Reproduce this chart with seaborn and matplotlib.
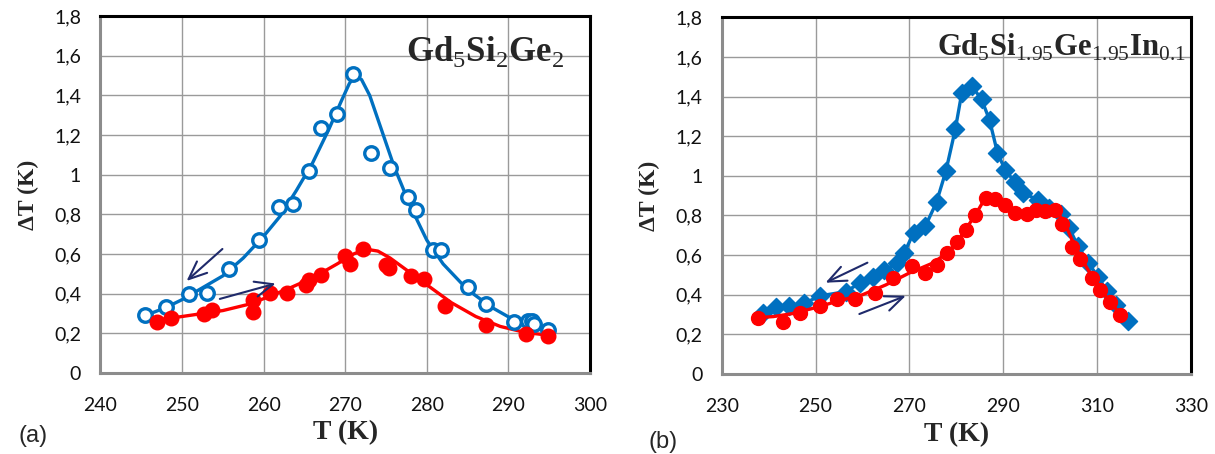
import matplotlib
matplotlib.use("Agg")
import matplotlib.pyplot as plt
import seaborn as sns
import pandas as pd

# ---------------- data: panel (a) Gd5Si2Ge2 ----------------
a_cool_T = [245.5, 248.0, 250.9, 253.1, 255.8, 259.4, 261.9, 263.6, 265.5, 267.0, 269.0, 271.0,
            273.1, 275.5, 277.7, 278.7, 280.8, 281.7, 285.1, 287.3, 290.7, 292.4, 292.9, 293.1, 294.9]
a_cool_dT = [0.294, 0.333, 0.40, 0.403, 0.524, 0.672, 0.835, 0.853, 1.021, 1.234, 1.305, 1.508,
             1.112, 1.033, 0.887, 0.82, 0.621, 0.621, 0.433, 0.349, 0.255, 0.26, 0.26, 0.245, 0.218]
a_heat_T = [246.9, 248.7, 252.7, 253.7, 258.7, 258.7, 260.8, 262.9, 265.2, 265.5, 267.0, 270.0,
            270.6, 272.2, 275.0, 275.4, 278.1, 279.7, 282.2, 287.2, 292.2, 294.9]
a_heat_dT = [0.255, 0.277, 0.297, 0.316, 0.37, 0.307, 0.403, 0.403, 0.445, 0.47, 0.495, 0.588,
             0.551, 0.626, 0.546, 0.529, 0.49, 0.475, 0.336, 0.243, 0.196, 0.185]
a_cool_fit_T = [245.5, 248, 250, 252.5, 255, 257.5, 260, 262, 264, 266, 268, 269.5, 270.5, 271.2,
                272, 273, 274, 276, 278, 280, 282, 285, 288, 291, 293, 295]
a_cool_fit_dT = [0.29, 0.33, 0.37, 0.43, 0.49, 0.58, 0.69, 0.79, 0.92, 1.06, 1.23, 1.37, 1.46, 1.50,
                 1.48, 1.40, 1.28, 1.04, 0.84, 0.67, 0.55, 0.42, 0.33, 0.26, 0.23, 0.215]
a_heat_fit_T = [246.5, 250, 255, 258, 260, 263, 266, 269, 271, 272.5, 274, 275.5, 277, 280, 283,
                286, 289, 292, 295]
a_heat_fit_dT = [0.265, 0.285, 0.315, 0.345, 0.375, 0.425, 0.48, 0.55, 0.60, 0.625, 0.615, 0.58,
                 0.535, 0.445, 0.355, 0.285, 0.235, 0.205, 0.19]

# ---------------- data: panel (b) Gd5Si1.95Ge1.95In0.1 ----------------
b_cool_T = [238.9, 241.6, 244.4, 247.6, 251.0, 256.5, 259.4, 262.2, 264.7, 267.3, 268.9, 270.9,
            273.4, 275.8, 277.8, 279.8, 281.2, 283.3, 285.4, 287.1, 288.8, 290.4, 292.5, 294.3,
            297.5, 299.7, 302.3, 304.1, 306.0, 308.2, 310.3, 312.1, 314.1, 316.7]
b_cool_dT = [0.31, 0.337, 0.344, 0.357, 0.395, 0.416, 0.459, 0.492, 0.523, 0.56, 0.61, 0.712,
             0.745, 0.867, 1.024, 1.234, 1.42, 1.454, 1.386, 1.282, 1.116, 1.032, 0.968, 0.914,
             0.877, 0.838, 0.809, 0.737, 0.644, 0.56, 0.489, 0.417, 0.349, 0.27]
b_heat_T = [237.7, 243.0, 246.7, 251.0, 254.5, 258.4, 262.6, 266.5, 270.5, 273.4, 275.8, 278.0,
            280.1, 282.0, 284.0, 286.3, 288.3, 290.4, 292.5, 295.0, 297.0, 298.9, 301.1, 302.5,
            304.6, 306.4, 308.9, 310.7, 312.7, 314.9]
b_heat_dT = [0.282, 0.265, 0.307, 0.341, 0.378, 0.378, 0.411, 0.484, 0.546, 0.509, 0.551, 0.61,
             0.664, 0.728, 0.804, 0.889, 0.884, 0.855, 0.813, 0.809, 0.83, 0.821, 0.83, 0.759,
             0.641, 0.58, 0.484, 0.422, 0.366, 0.298]
b_heat_fit_T = [237.7, 241, 245, 250, 255, 260, 265, 270, 275, 278, 280, 282, 284, 286, 288, 290,
                292.5, 295, 297, 299, 301.5, 303, 305, 307, 309, 311, 313, 315]
b_heat_fit_dT = [0.285, 0.29, 0.305, 0.335, 0.37, 0.40, 0.45, 0.51, 0.56, 0.61, 0.66, 0.73, 0.80,
                 0.88, 0.885, 0.86, 0.815, 0.81, 0.83, 0.825, 0.815, 0.77, 0.66, 0.57, 0.49, 0.42,
                 0.36, 0.30]

y_ticks = [0, 0.2, 0.4, 0.6, 0.8, 1.0, 1.2, 1.4, 1.6, 1.8]
y_ticklabels = ["0", "0,2", "0,4", "0,6", "0,8", "1", "1,2", "1,4", "1,6", "1,8"]
a_xticks = [240, 250, 260, 270, 280, 290, 300]
b_xticks = [230, 250, 270, 290, 310, 330]

BLUE = "#0070C0"
RED = "#FF0000"
NAVY = "#1F2A6B"
GRID = "#9A9A9A"
AXC = "#8C8C8C"

sns.set_style("white")
plt.rcParams["font.family"] = ["Lato", "DejaVu Sans"]
plt.rcParams["mathtext.fontset"] = "custom"
plt.rcParams["mathtext.rm"] = "Liberation Serif"
plt.rcParams["mathtext.bf"] = "Liberation Serif:bold"

fig = plt.figure(figsize=(12.15, 4.54), dpi=100)
ax1 = fig.add_axes([0.0827, 0.1784, 0.4029, 0.786])
ax2 = fig.add_axes([0.594, 0.176, 0.386, 0.786])

ARROW = dict(arrowstyle="->,head_length=1.3,head_width=0.55", color=NAVY, lw=1.5)


def style_axes(ax, xlim, xticks):
    ax.set_xlim(*xlim)
    ax.set_ylim(0, 1.8)
    ax.set_xticks(xticks)
    ax.set_xticklabels([str(t) for t in xticks])
    ax.set_yticks(y_ticks)
    ax.set_yticklabels(y_ticklabels)
    ax.grid(True, color=GRID, lw=1.0)
    ax.set_axisbelow(True)
    for s in ["left", "bottom"]:
        ax.spines[s].set_color(AXC)
        ax.spines[s].set_linewidth(2.2)
    for s in ["top", "right"]:
        ax.spines[s].set_color("black")
        ax.spines[s].set_linewidth(2.2)
    ax.tick_params(axis="both", direction="out", length=4, width=1.5, color=AXC,
                   labelsize=14, labelcolor="#111111")
    ax.tick_params(axis="x", pad=13)
    ax.tick_params(axis="y", pad=10)
    ax.set_xlabel("T (K)", family="Liberation Serif", fontweight="bold", fontsize=20, labelpad=5)
    ax.set_ylabel("ΔT (K)", family="Liberation Serif", fontweight="bold", fontsize=17, labelpad=11)


# ---- panel (a)
sns.lineplot(x=a_cool_fit_T, y=a_cool_fit_dT, sort=False, color=BLUE, lw=2.4, ax=ax1)
sns.lineplot(x=a_heat_fit_T, y=a_heat_fit_dT, sort=False, color=RED, lw=2.4, ax=ax1)
ax1.scatter(a_cool_T, a_cool_dT, s=95, facecolors="white", edgecolors=BLUE, linewidths=2.4, zorder=3)
ax1.scatter(a_heat_T, a_heat_dT, s=110, color=RED, edgecolors=RED, zorder=3)
style_axes(ax1, (240, 300), a_xticks)
ax1.annotate("", xy=(250.3, 0.455), xytext=(255.2, 0.635), arrowprops=ARROW)
ax1.annotate("", xy=(261.8, 0.455), xytext=(254.3, 0.37), arrowprops=ARROW)
ax1.text(0.946, 0.9, r"$\mathbf{Gd}_{\mathrm{5}}\mathbf{Si}_{\mathrm{2}}\mathbf{Ge}_{\mathrm{2}}$",
         transform=ax1.transAxes, ha="right", va="center", fontsize=25)

# ---- panel (b)
sns.lineplot(x=b_cool_T, y=b_cool_dT, sort=False, color=BLUE, lw=2.4, ax=ax2)
ax2.scatter(b_cool_T, b_cool_dT, s=85, marker="D", color=BLUE, edgecolors=BLUE, zorder=3)
sns.lineplot(x=b_heat_fit_T, y=b_heat_fit_dT, sort=False, color=RED, lw=2.4, ax=ax2, zorder=4)
ax2.scatter(b_heat_T, b_heat_dT, s=100, color=RED, edgecolors=RED, zorder=5)
style_axes(ax2, (230, 330), b_xticks)
ax2.annotate("", xy=(251.6, 0.455), xytext=(261.6, 0.568), arrowprops=ARROW)
ax2.annotate("", xy=(269.8, 0.40), xytext=(258.8, 0.298), arrowprops=ARROW)
ax2.text(0.99, 0.915,
         r"$\mathbf{Gd}_{\mathrm{5}}\mathbf{Si}_{\mathrm{1.95}}\mathbf{Ge}_{\mathrm{1.95}}\mathbf{In}_{\mathrm{0.1}}$",
         transform=ax2.transAxes, ha="right", va="center", fontsize=22)

fig.text(33 / 1215, 1 - 436 / 454, "(a)", ha="center", va="center", fontsize=17,
         family="Liberation Sans")
fig.text(663 / 1215, 1 - 442 / 454, "(b)", ha="center", va="center", fontsize=17,
         family="Liberation Sans")

fig.savefig("out.png", dpi=100)
